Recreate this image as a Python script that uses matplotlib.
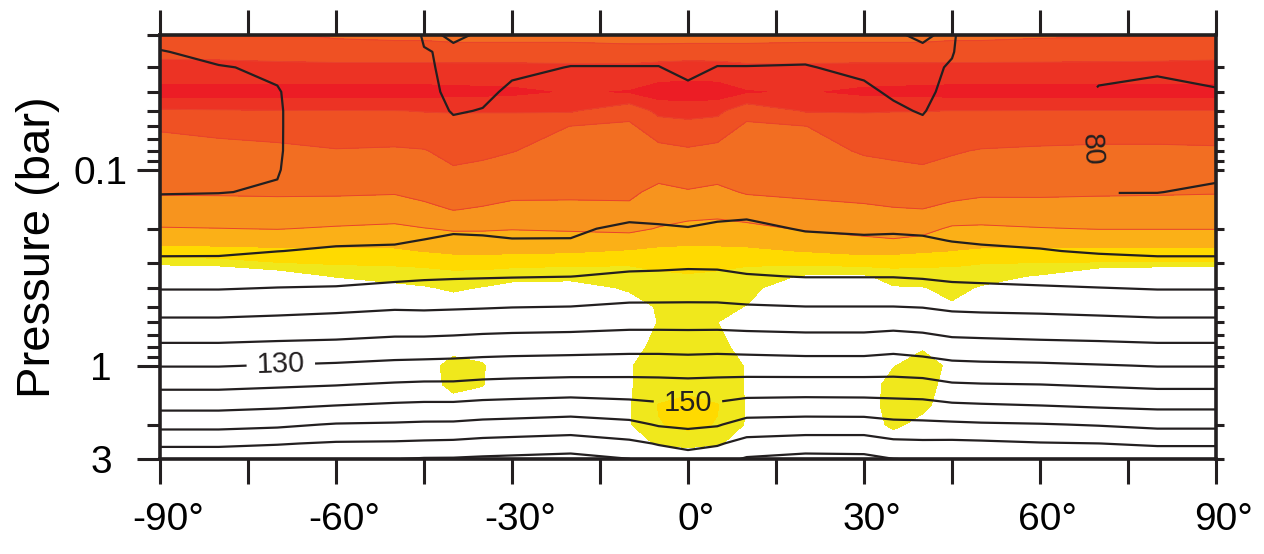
import numpy as np
import matplotlib
matplotlib.use("Agg")
import matplotlib.pyplot as plt
from matplotlib.ticker import NullFormatter
from matplotlib.transforms import ScaledTranslation

plt.rcParams['font.family'] = ['Liberation Sans', 'DejaVu Sans']

# ---------------- data ----------------
latitude = [-90, -80, -70, -60, -50, -45, -40, -35, -30, -20, -10, -5, 0,
            5, 10, 20, 30, 35, 40, 45, 50, 60, 70, 80, 90]
pressure_bar = [0.02, 0.025, 0.03, 0.04, 0.05, 0.06, 0.08, 0.1, 0.13, 0.16,
                0.2, 0.23, 0.26, 0.3, 0.35, 0.4, 0.5, 0.6, 0.8, 1.0,
                1.25, 1.6, 2.0, 2.5, 3.0]

# temperature (K) profiles, one per latitude, ordered like pressure_bar
temperature_profiles = [
    [81.5, 79.8, 78.5, 77.5, 77.0, 77.2, 77.8, 78.6, 79.8, 81.5, 84.9, 87.0, 88.8, 91.7, 95.8, 99.4, 106.1, 111.8, 121.7, 129.6, 137.8, 147.6, 157.4, 168.2, 177.0],
    [82.0, 81.0, 79.8, 78.0, 77.5, 77.5, 78.0, 78.8, 79.9, 81.6, 85.0, 87.1, 88.9, 91.7, 95.8, 99.4, 106.1, 111.8, 121.7, 129.6, 137.8, 147.6, 157.4, 168.2, 177.0],
    [83.0, 82.0, 80.5, 79.8, 79.7, 79.7, 79.7, 79.8, 80.3, 82.0, 85.6, 87.9, 89.9, 93.2, 96.8, 100.05, 106.8, 112.6, 122.5, 130.4, 138.7, 148.6, 158.4, 169.4, 177.5],
    [84.0, 83.5, 83.0, 82.8, 82.7, 82.7, 82.8, 83.2, 84.0, 85.0, 87.5, 89.1, 90.8, 94.0, 97.3, 100.4, 107.7, 113.5, 123.0, 131.3, 139.6, 150.05, 160.6, 171.0, 178.5],
    [83.5, 83.0, 82.8, 82.5, 82.5, 82.5, 82.8, 83.3, 84.2, 85.5, 87.8, 89.3, 91.2, 94.6, 98.2, 101.9, 108.9, 114.6, 124.3, 132.6, 141.0, 151.5, 161.1, 171.3, 179.8],
    [79.5, 80.2, 80.5, 81.0, 81.2, 81.5, 82.0, 82.5, 83.5, 85.0, 88.2, 90.2, 92.8, 95.7, 98.9, 102.3, 108.7, 114.4, 124.5, 133.0, 141.5, 152.0, 161.6, 171.8, 180.7],
    [80.5, 79.5, 79.2, 79.2, 79.8, 80.6, 82.0, 83.0, 84.5, 86.0, 89.0, 91.3, 93.6, 96.3, 99.2, 102.7, 109.0, 114.8, 125.0, 133.3, 141.5, 152.0, 161.7, 172.2, 180.8],
    [79.8, 79.5, 79.3, 79.5, 80.1, 80.8, 82.0, 83.0, 84.5, 86.0, 88.8, 91.0, 93.4, 96.3, 99.4, 103.0, 109.3, 115.4, 125.7, 133.9, 142.5, 153.0, 162.8, 173.3, 181.5],
    [79.0, 79.2, 79.6, 80.4, 81.0, 81.5, 82.5, 83.5, 85.0, 86.5, 88.7, 90.3, 93.0, 96.2, 99.6, 103.3, 109.7, 115.8, 126.1, 134.3, 143.0, 153.5, 163.3, 173.9, 182.0],
    [78.8, 79.5, 80.05, 80.8, 81.3, 81.8, 83.0, 84.0, 85.5, 87.0, 88.9, 90.3, 93.1, 96.4, 99.9, 103.7, 110.05, 116.2, 126.5, 134.8, 143.7, 154.5, 164.4, 175.0, 183.0],
    [78.8, 79.5, 80.05, 80.9, 81.8, 82.8, 84.0, 85.3, 86.5, 87.6, 91.4, 93.7, 95.7, 98.1, 101.2, 105.0, 111.5, 117.2, 127.1, 135.2, 143.5, 153.0, 162.5, 172.1, 180.1],
    [78.8, 79.5, 80.05, 80.9, 81.7, 82.6, 84.0, 85.2, 86.7, 88.0, 90.7, 93.3, 95.5, 98.2, 101.5, 105.2, 111.5, 117.2, 127.1, 135.2, 143.2, 151.6, 159.2, 169.4, 176.0],
    [78.5, 79.0, 79.5, 80.5, 81.3, 82.2, 83.8, 85.0, 86.7, 88.2, 90.2, 93.1, 95.5, 98.5, 102.0, 105.5, 111.5, 117.2, 126.8, 134.8, 142.8, 151.1, 158.1, 167.0, 174.5],
    [78.8, 79.5, 80.05, 80.9, 81.7, 82.6, 84.0, 85.2, 86.8, 88.3, 91.1, 93.6, 95.8, 98.4, 101.8, 105.3, 111.5, 117.2, 127.1, 135.2, 143.2, 151.6, 159.2, 168.9, 176.5],
    [78.8, 79.5, 80.05, 81.0, 81.8, 82.8, 84.2, 85.5, 87.0, 88.5, 91.6, 93.8, 95.7, 97.9, 100.5, 104.3, 110.8, 116.7, 126.7, 135.0, 143.8, 154.0, 163.7, 173.5, 181.0],
    [78.8, 79.6, 80.1, 80.9, 81.5, 82.0, 83.2, 84.2, 85.8, 87.3, 89.5, 91.8, 94.1, 96.8, 99.7, 103.4, 110.05, 116.2, 126.0, 134.5, 144.0, 154.5, 164.4, 175.0, 183.0],
    [79.0, 79.2, 79.6, 80.4, 81.0, 81.6, 82.6, 83.6, 85.0, 86.5, 89.0, 91.0, 93.5, 96.5, 99.7, 103.4, 110.05, 116.2, 126.0, 134.5, 144.0, 154.2, 164.4, 175.0, 182.5],
    [79.8, 79.5, 79.3, 79.7, 80.4, 81.0, 82.0, 83.0, 84.5, 86.0, 89.0, 91.4, 93.8, 96.6, 99.7, 103.4, 110.05, 116.7, 127.1, 135.2, 143.8, 153.6, 162.5, 172.4, 180.1],
    [80.5, 79.5, 79.2, 79.2, 79.8, 80.6, 82.0, 83.0, 84.5, 86.0, 88.8, 90.9, 93.3, 96.2, 99.2, 102.9, 109.6, 116.2, 125.8, 134.3, 143.3, 153.2, 162.1, 172.0, 179.5],
    [79.5, 79.8, 80.3, 81.0, 81.5, 82.0, 82.8, 83.5, 84.5, 86.0, 88.3, 89.8, 92.1, 95.1, 98.4, 101.7, 108.3, 114.2, 124.2, 132.3, 141.0, 151.6, 161.7, 172.2, 179.0],
    [83.0, 82.5, 82.3, 82.0, 82.0, 82.0, 82.3, 83.0, 84.0, 85.5, 87.8, 89.3, 91.2, 94.5, 98.0, 101.4, 107.9, 113.8, 123.8, 131.8, 140.5, 151.0, 161.1, 171.8, 178.5],
    [83.5, 83.0, 82.5, 81.8, 81.3, 81.3, 81.5, 82.0, 83.0, 84.5, 87.1, 88.8, 90.4, 93.8, 97.4, 100.7, 107.5, 113.3, 123.0, 131.4, 140.05, 150.05, 160.5, 170.6, 177.5],
    [82.5, 82.0, 80.5, 79.8, 79.8, 79.8, 79.8, 79.8, 79.95, 81.0, 84.8, 87.2, 89.3, 92.6, 96.5, 100.05, 106.8, 112.6, 122.5, 130.5, 139.1, 149.0, 159.4, 170.05, 177.0],
    [82.0, 81.0, 80.4, 79.2, 78.5, 78.3, 78.5, 79.0, 79.95, 81.2, 84.7, 86.9, 88.8, 91.7, 95.8, 99.4, 106.1, 111.8, 121.7, 129.6, 138.1, 148.2, 157.8, 168.9, 176.0],
    [82.0, 81.2, 80.8, 79.8, 79.0, 78.8, 79.0, 79.5, 80.4, 81.5, 84.9, 87.0, 88.8, 91.7, 95.8, 99.4, 106.1, 111.8, 121.7, 129.6, 138.1, 148.2, 157.8, 168.9, 176.0],
]

# colour-band index profiles (band n..n+1 -> shade_colors[n-1]; below 1 is white)
shade_profiles = [
    [6.5, 6.83, 7.2, 8.4, 6.85, 6.08, 5.67, 5.4, 5.08, 4.6, 3.94, 3.28, 2.62, 1.3, -1.3, -1, -1, -1, -1, -1, -1, -1, -1, -1, -1],
    [6.3, 6.8, 7.2, 8.4, 6.91, 6.24, 5.71, 5.42, 5.09, 4.61, 3.98, 3.33, 2.69, 1.5, -1.1, -1, -1, -1, -1, -1, -1, -1, -1, -1, -1],
    [6.05, 6.7, 7.2, 8.4, 6.96, 6.39, 5.77, 5.47, 5.11, 4.65, 4.03, 3.39, 2.78, 1.93, 0.05, -0.5, -0.5, -0.5, -0.5, -0.5, -0.5, -0.5, -0.5, -0.5, -0.5],
    [5.8, 6.5, 7.25, 8.4, 6.97, 6.57, 5.94, 5.56, 5.11, 4.59, 3.9, 3.33, 2.81, 2.09, 1.1, -0.2, -0.3, -0.3, -0.3, -0.3, -0.3, -0.3, -0.3, -0.3, -0.3],
    [5.7, 6.5, 7.25, 8.4, 6.98, 6.54, 5.88, 5.51, 5.07, 4.5, 3.8, 3.32, 2.86, 2.15, 1.38, 0.7, -0.2, -0.2, 0, 0, 0, 0, 0, 0, 0],
    [5.7, 6.5, 7.25, 8.35, 7.03, 6.6, 5.95, 5.61, 5.22, 4.78, 3.96, 3.46, 3.03, 2.23, 1.49, 0.9, 0.2, 0.1, 0.3, 0.5, 0.5, 0.2, 0, 0, 0],
    [5.6, 6.45, 7.25, 8.3, 7.04, 6.75, 6.28, 5.91, 5.42, 5.02, 4.1, 3.6, 3.19, 2.38, 1.64, 1.17, 0.36, 0.2, 0.6, 1.4, 1.3, 0.5, 0.1, 0, 0],
    [5.6, 6.45, 7.25, 8.25, 7.04, 6.71, 6.19, 5.79, 5.33, 4.91, 4.09, 3.62, 3.22, 2.41, 1.55, 0.95, 0.2, 0.1, 0.5, 1.1, 1.05, 0.4, 0, 0, 0],
    [5.6, 6.45, 7.25, 8.2, 7.05, 6.65, 6.03, 5.65, 5.21, 4.74, 4.04, 3.58, 3.18, 2.32, 1.36, 0.6, 0.2, 0, 0, 0, 0, 0, 0, 0, 0],
    [5.6, 6.45, 7.2, 7.9, 7.1, 5.98, 5.67, 5.43, 5.15, 4.79, 4.11, 3.59, 3.12, 2.21, 1.29, 0.54, 0, 0, 0, 0, 0, 0, 0, 0, 0],
    [5.5, 6.4, 7.2, 8.05, 6.3, 5.85, 5.62, 5.4, 5.15, 4.83, 4.2, 3.6, 2.91, 2.1, 1.57, 1.15, 0.44, 0.2, 0.6, 0.92, 0.92, 0.92, 0.92, 0.6, 0],
    [5.5, 6.4, 7.35, 8.45, 7.27, 6.5, 5.71, 5.29, 4.79, 4.4, 3.95, 3.32, 2.77, 2.13, 1.9, 1.6, 1.12, 1.05, 1.3, 1.5, 1.5, 2.05, 1.95, 1.1, -0.3],
    [5.5, 6.45, 7.45, 8.5, 7.38, 6.66, 5.87, 5.44, 4.93, 4.38, 3.71, 3.21, 2.75, 2.17, 1.95, 1.7, 1.5, 1.4, 1.5, 1.6, 1.7, 2.3, 2.2, 1.5, -0.5],
    [5.5, 6.45, 7.4, 8.45, 7.27, 6.5, 5.71, 5.3, 4.82, 4.28, 3.67, 3.22, 2.77, 2.13, 1.9, 1.6, 1.4, 1.02, 1.3, 1.5, 1.5, 2.05, 1.95, 1.1, -0.3],
    [5.5, 6.45, 7.2, 8.05, 6.3, 5.85, 5.59, 5.35, 5.07, 4.5, 3.73, 3.27, 2.81, 2.09, 1.69, 1.39, 0.95, 0.2, 0.6, 0.93, 0.93, 0.93, 0.9, 0.6, 0],
    [5.6, 6.45, 7.2, 7.9, 7.08, 5.98, 5.67, 5.42, 5.14, 4.76, 4.1, 3.55, 3.04, 2.18, 0.84, 0, 0, 0, 0, 0, 0, 0, 0, 0, 0],
    [5.6, 6.45, 7.25, 8.2, 7.05, 6.66, 6.09, 5.7, 5.25, 4.85, 4.27, 3.83, 3.26, 2.38, 0.81, 0, 0, 0, 0, 0.2, 0.4, 0.5, 0.5, 0.2, 0],
    [5.6, 6.45, 7.25, 8.25, 7.02, 6.7, 6.19, 5.79, 5.33, 4.94, 4.34, 3.93, 3.25, 2.29, 1.49, 0.9, 0.1, 0, 0.3, 0.95, 1.4, 1.4, 1.2, 0.4, 0],
    [5.6, 6.45, 7.25, 8.3, 7.02, 6.73, 6.26, 5.89, 5.39, 4.98, 4.3, 3.75, 3.11, 2.19, 1.52, 0.95, 0.2, 0.3, 0.9, 1.4, 1.4, 1.2, 0.7, 0.2, 0],
    [5.7, 6.5, 7.25, 8.35, 6.99, 6.65, 6.09, 5.7, 5.25, 4.75, 3.85, 3.38, 2.98, 2.11, 1.7, 1.3, 0.85, 0.2, 0.6, 0.8, 0.6, 0.5, 0.2, 0, 0],
    [5.7, 6.5, 7.25, 8.4, 6.99, 6.58, 5.94, 5.58, 5.15, 4.6, 3.83, 3.33, 2.85, 2.03, 1.4, 0.9, 0.2, 0, 0, 0, 0, 0, 0, 0, 0],
    [5.8, 6.55, 7.25, 8.4, 6.97, 6.5, 5.86, 5.53, 5.14, 4.64, 3.95, 3.35, 2.78, 1.96, 0.87, 0, 0, 0, 0, 0, 0, 0, 0, 0, 0],
    [5.85, 6.6, 7.25, 8.4, 6.97, 6.45, 5.81, 5.48, 5.1, 4.63, 4.03, 3.39, 2.78, 1.9, -0.72, -0.5, -0.5, -0.5, -0.5, -0.5, -0.5, -0.5, -0.5, -0.5, -0.5],
    [6.1, 6.65, 7.25, 8.4, 6.97, 6.45, 5.81, 5.47, 5.08, 4.61, 4.03, 3.39, 2.78, 1.88, -1.4, -1, -1, -1, -1, -1, -1, -1, -1, -1, -1],
    [6.3, 6.75, 7.25, 8.4, 6.97, 6.5, 5.85, 5.48, 5.05, 4.57, 4.03, 3.39, 2.78, 1.88, -1.4, -1, -1, -1, -1, -1, -1, -1, -1, -1, -1],
]

temperature_levels = [80, 90, 100, 110, 120, 130, 140, 150, 160, 170, 180]
shade_levels = [1, 2, 3, 4, 5, 6, 7, 8, 9]
shade_colors = ['#F0E81C', '#FFDA00', '#FBB017', '#F7941E',
                '#F26E22', '#EF5123', '#EC3324', '#EC1D25']

x_ticks = [-90, -75, -60, -45, -30, -15, 0, 15, 30, 45, 60, 75, 90]
x_tick_labels = ['-90°', '', '-60°', '', '-30°', '', '0°', '', '30°', '', '60°', '', '90°']
y_major_ticks = [0.1, 1, 3]
y_major_labels = ['0.1', '1', '3']
y_minor_ticks = [0.0205, 0.03, 0.04, 0.05, 0.06, 0.07, 0.08, 0.09,
                 0.2, 0.3, 0.4, 0.5, 0.6, 0.7, 0.8, 0.9, 2]

label_130_pos = (-69.4, 1.0)
label_150_pos = (0.0, 1.54)
label_80_pos = (69.0, 0.079)

# ---------------- figure ----------------
T = np.array(temperature_profiles).T
C = np.array(shade_profiles).T
ink = '#231F20'

fig = plt.figure(figsize=(12.64, 5.54), dpi=100)
ax = fig.add_axes([160 / 1264, 1 - 459 / 554, 1056 / 1264, 424 / 554])
ax2 = ax.twinx()

ax.set_yscale('log')
ax.set_xlim(-90, 90)
ax.set_ylim(3.0, 0.0205)

ax.contourf(latitude, pressure_bar, C, levels=shade_levels, colors=shade_colors, zorder=1)
ax.contour(latitude, pressure_bar, C, levels=[4, 5, 6, 7], colors='#E8432C',
           linewidths=0.7, zorder=2)
cs = ax.contour(latitude, pressure_bar, T, levels=temperature_levels, colors=ink,
                linewidths=1.6, zorder=3)
ax.clabel(cs, manual=[label_130_pos, label_150_pos], inline=True,
          inline_spacing=10, fontsize=21, fmt='%d')
ax.clabel(cs, manual=[label_80_pos], inline=True,
          inline_spacing=48, fontsize=21, fmt='%d')

# x axis
ax.set_xticks(x_ticks)
ax.set_xticklabels(x_tick_labels)
ax.tick_params(axis='x', which='major', direction='out', length=18, width=2.2,
               top=True, bottom=True, labelsize=28, pad=13, colors=ink, labelcolor='black')
offset = ScaledTranslation(8 / 100, 0, fig.dpi_scale_trans)
for lbl in ax.get_xticklabels():
    lbl.set_transform(lbl.get_transform() + offset)

# y axis (left)
ax.set_yticks(y_major_ticks)
ax.set_yticklabels(y_major_labels)
ax.set_yticks(y_minor_ticks, minor=True)
ax.yaxis.set_minor_formatter(NullFormatter())
ax.tick_params(axis='y', which='major', direction='out', length=16.5, width=2.2,
               left=True, right=False, labelsize=28, pad=26, colors=ink, labelcolor='black')
ax.tick_params(axis='y', which='minor', direction='out', length=9.4, width=2.2,
               left=True, right=False, colors=ink)
for lbl in ax.get_yticklabels():
    lbl.set_horizontalalignment('center')

ax.set_ylabel('Pressure (bar)', fontsize=34, va='center')
ax.yaxis.set_label_coords((38 - 160) / 1056, 0.5)

# y axis (right, short ticks only)
ax2.set_yscale('log')
ax2.set_ylim(3.0, 0.0205)
ax2.set_yticks(y_major_ticks + y_minor_ticks[1:])
ax2.set_yticks([], minor=True)
ax2.yaxis.set_major_formatter(NullFormatter())
ax2.tick_params(axis='y', which='major', direction='out', length=6, width=2.2,
                right=True, left=False, labelright=False, colors=ink)
for s in ax2.spines.values():
    s.set_visible(False)

for s in ax.spines.values():
    s.set_linewidth(2.6)
    s.set_color(ink)

fig.savefig('out.png', dpi=100)
